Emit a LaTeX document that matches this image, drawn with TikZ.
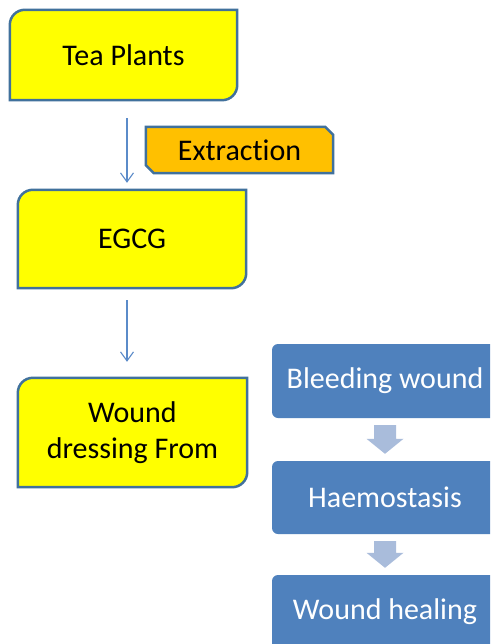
\documentclass[tikz,border=0pt]{standalone}
\usepackage{fontspec}
\setmainfont{Carlito}[Ligatures={NoCommon}]
\usetikzlibrary{arrows.meta,positioning,calc,backgrounds}
\definecolor{plantFill}{HTML}{FFFF00}
\definecolor{plantDraw}{HTML}{41719C}
\definecolor{stepFill}{HTML}{FFC000}
\definecolor{healFill}{HTML}{4F81BD}
\definecolor{flowDraw}{HTML}{5B8BC9}
\definecolor{blockFill}{HTML}{A9BCDB}
\tikzset{
  font=\fontsize{30}{36}\selectfont,
  box/.style   ={align=center, inner sep=0pt},
  plant/.style ={box, minimum width=227pt},
  yelbox/.style={fill=plantFill, draw=plantDraw, line width=2.5pt},
  snipbox/.style={fill=stepFill, draw=plantDraw, line width=2.5pt},
  heal/.style  ={box, fill=healFill, text=white, rounded corners=6pt,
                 minimum width=226pt, minimum height=74pt},
  arr/.style   ={-{Straight Barb[length=9pt,width=13pt]}, draw=flowDraw, line width=1.1pt},
  barrow/.style={fill=blockFill},
}
% box with rounded top left and bottom right corners
\newcommand{\roundpair}[1]{%
  \path[yelbox] ([yshift=-15pt]#1.north west) arc[start angle=180,end angle=90,radius=15pt]
    -- (#1.north east) -- ([yshift=15pt]#1.south east)
    arc[start angle=0,end angle=-90,radius=15pt] -- (#1.south west) -- cycle;}
% box with snipped top right and bottom left corners
\newcommand{\snippair}[1]{%
  \path[snipbox] ([yshift=8pt]#1.south west) -- (#1.north west)
    -- ([xshift=-8pt]#1.north east) -- ([yshift=-8pt]#1.north east)
    -- (#1.south east) -- ([xshift=8pt]#1.south west) -- cycle;}
% thick block arrow between two stacked boxes
\newcommand{\blockarrow}[2]{%
  \fill[barrow] let \p1=(#1.south), \p2=(#2.north) in
    (\x1-11pt,\y1-7pt) -- (\x1+11pt,\y1-7pt) -- (\x1+11pt,\y2+22pt)
    -- (\x1+18.5pt,\y2+22pt) -- (\x1,\y2+7pt) -- (\x1-18.5pt,\y2+22pt)
    -- (\x1-11pt,\y2+22pt) -- cycle;}
\begin{document}
\begin{tikzpicture}[x=1pt,y=1pt]
  \clip (0,0) rectangle (490,-644);

  % left column: from the plant to the dressing
  \node[plant, minimum height=90pt]  (tea)   at (123.5,-55)  {Tea Plants};
  \node[box, minimum width=187pt, minimum height=46pt] (extr) at (239.5,-150) {Extraction};
  \node[plant, minimum width=228pt, minimum height=98pt]  (egcg)  at (132,-239)   {EGCG};
  \node[plant, minimum width=229pt, minimum height=109pt] (dress) at (132.5,-432.5) {Wound\\dressing From};
  \begin{scope}[on background layer]
    \fill[white] (0,0) rectangle (490,-644);
    \roundpair{tea} \roundpair{egcg} \roundpair{dress}
    \snippair{extr}
  \end{scope}

  \draw[arr] ([xshift=3.5pt,yshift=-18pt]tea.south) -- ([xshift=-5pt,yshift=7pt]egcg.north);
  \draw[arr] ([xshift=-5pt,yshift=-12pt]egcg.south) -- ([xshift=-5.5pt,yshift=16pt]dress.north);

  % right column: healing steps
  \node[heal] (bleed) at (385,-381)   {Bleeding wound};
  \node[heal, minimum height=73pt] (haem) at (385,-497.5) {Haemostasis};
  \node[heal] (wheal) at (385,-612)   {Wound healing};
  \blockarrow{bleed}{haem}
  \blockarrow{haem}{wheal}
\end{tikzpicture}
\end{document}
